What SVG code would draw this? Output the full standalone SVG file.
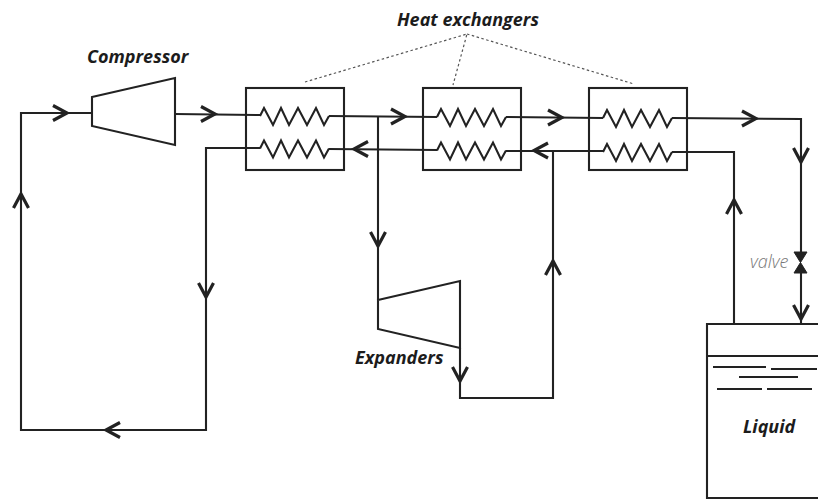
<svg xmlns="http://www.w3.org/2000/svg" width="818" height="500" viewBox="0 0 818 500">
<style>
.l{fill:none;stroke:#222;stroke-width:2.1;stroke-linejoin:miter}
.a{fill:none;stroke:none;marker-end:url(#chev)}
.d{fill:none;stroke:#555;stroke-width:1.2;stroke-dasharray:2.5 2.5}
.t{font-family:"Open Sans","DejaVu Sans",sans-serif;font-weight:700;font-style:italic;font-size:18px;fill:#1c1c1c}
</style>
<defs>
<marker id="chev" markerUnits="userSpaceOnUse" markerWidth="22" markerHeight="22" refX="18" refY="11" orient="auto">
<path d="M3 3.500L17 11L3 18.500" fill="none" stroke="#222" stroke-width="3.200"/>
</marker>
<path id="zig" d="M0 0L4 -8L13 9L21 -8L29 9L38 -8L47 9L56 -8L64 9L69 0"/>
</defs>
<rect width="818" height="500" fill="#fff"/>
<g id="connectors">
<path class="l" d="M92 113H21V430H206V148H260"/>
<path class="l" d="M175 114L260 115"/>
<path class="l" d="M329 116L437 117"/>
<path class="l" d="M506 117L603 118"/>
<path class="l" d="M672 118L801 119V252"/>
<path class="l" d="M801 273V324"/>
<path class="l" d="M329 149L437 150"/>
<path class="l" d="M506 151H603"/>
<path class="l" d="M672 152H734V324"/>
<path class="l" d="M378 116V300"/>
<path class="l" d="M460 348V398H553V151"/>
<path class="a" d="M58 113H68"/>
<path class="a" d="M206 114H216"/>
<path class="a" d="M396 116.500H406"/>
<path class="a" d="M553 117.500H563"/>
<path class="a" d="M747 118.500H757"/>
<path class="a" d="M801 153V163"/>
<path class="a" d="M801 310V320"/>
<path class="a" d="M363 149H353"/>
<path class="a" d="M543 150.500H533"/>
<path class="a" d="M734 209V199"/>
<path class="a" d="M378 237V247"/>
<path class="a" d="M460 372V382"/>
<path class="a" d="M553 270V260"/>
<path class="a" d="M206 288V298"/>
<path class="a" d="M115 430H105"/>
<path class="a" d="M21 203V193"/>
<path class="d" d="M305 82L467 34L453 85M467 34L634 84"/>
</g>
<g id="compressor">
<path class="l" d="M92 97L175 78V145L92 126Z"/>
<text class="t" x="87" y="63">Compressor</text>
</g>
<g id="hx1">
<rect class="l" x="246" y="88" width="98" height="82"/>
<use href="#zig" class="l" x="260" y="116"/>
<use href="#zig" class="l" x="260" y="148.500"/>
</g>
<g id="hx2">
<rect class="l" x="423" y="88" width="98" height="82"/>
<use href="#zig" class="l" x="437" y="117"/>
<use href="#zig" class="l" x="437" y="150.500"/>
</g>
<g id="hx3">
<rect class="l" x="589" y="88" width="98" height="82"/>
<use href="#zig" class="l" x="603" y="118"/>
<use href="#zig" class="l" x="603" y="152"/>
</g>
<g id="heat-exchangers-label">
<text class="t" x="397" y="26">Heat exchangers</text>
</g>
<g id="expander">
<path class="l" d="M378 300L460 281V348L378 329Z"/>
<text class="t" x="355" y="364">Expanders</text>
</g>
<g id="valve">
<path d="M794 252H807L794 273H807Z" fill="#222" stroke="#222" stroke-width="1"/>
<text x="750" y="268" font-family="'Open Sans','DejaVu Sans',sans-serif" font-weight="300" font-style="italic" font-size="18px" fill="#777">valve</text>
</g>
<g id="tank">
<path class="l" d="M818 324H707V498H818M707 356H818"/>
<path class="l" d="M713 367H766M771 369H817M739 377H798M717 389H762M767 389H812"/>
<text class="t" x="743" y="433">Liquid</text>
</g>
</svg>
